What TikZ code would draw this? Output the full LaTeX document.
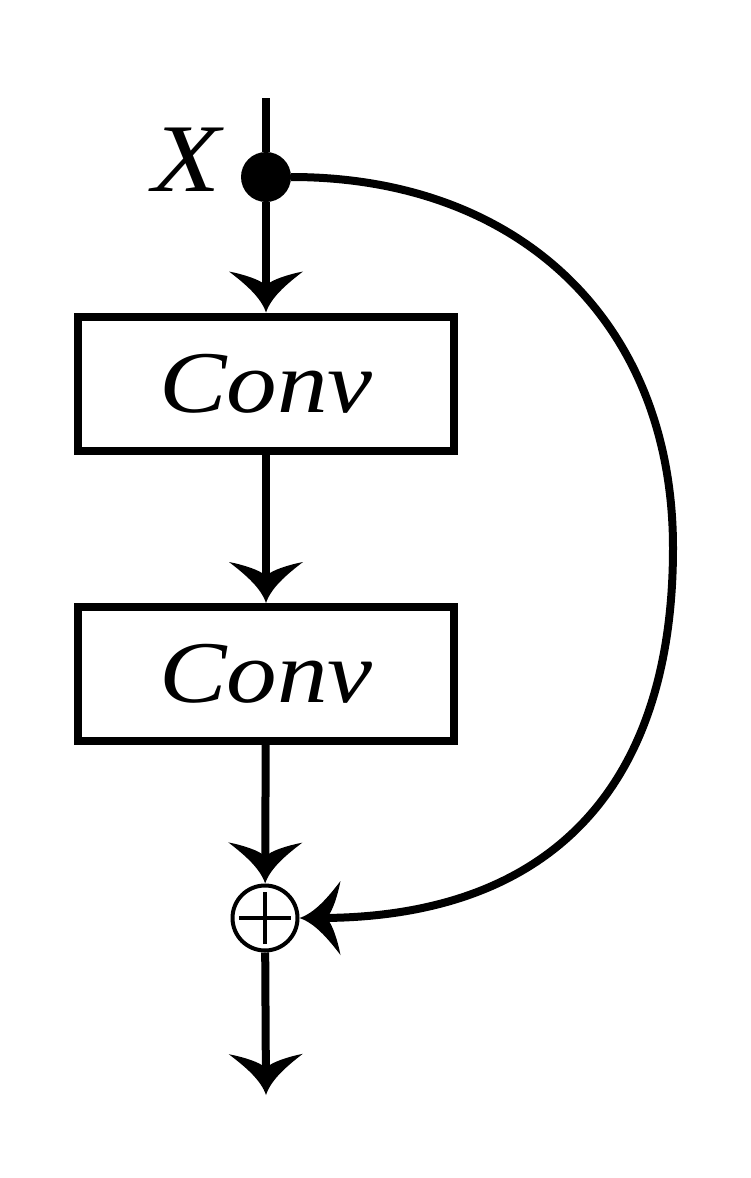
\documentclass[tikz,border=0pt]{standalone}
\usepackage{fontspec}
\setmainfont{Liberation Serif}
\usetikzlibrary{arrows.meta}
\newcommand{\wideit}[1]{\scalebox{1.15}[1]{\itshape #1}}
\pgfdeclarearrow{
  name = Swoop,
  setup code = {
    \pgfarrowssettipend{0pt}
    \pgfarrowssetlineend{-20pt}
    \pgfarrowssetbackend{-41pt}
    \pgfarrowshullpoint{0pt}{0pt}
    \pgfarrowshullpoint{-41pt}{37pt}
    \pgfarrowshullpoint{-41pt}{-37pt}
  },
  drawing code = {
    \pgfpathmoveto{\pgfpoint{0pt}{0pt}}
    \pgfpathcurveto{\pgfpoint{-15pt}{5pt}}{\pgfpoint{-28pt}{20pt}}{\pgfpoint{-41pt}{37pt}}
    \pgfpathcurveto{\pgfpoint{-38pt}{22pt}}{\pgfpoint{-33pt}{6pt}}{\pgfpoint{-27pt}{0pt}}
    \pgfpathcurveto{\pgfpoint{-33pt}{-6pt}}{\pgfpoint{-38pt}{-22pt}}{\pgfpoint{-41pt}{-37pt}}
    \pgfpathcurveto{\pgfpoint{-28pt}{-20pt}}{\pgfpoint{-15pt}{-5pt}}{\pgfpoint{0pt}{0pt}}
    \pgfpathclose
    \pgfusepathqfill
  }
}
\tikzset{
  wire/.style={line width=8pt},
  flow/.style={wire, -{Swoop}},
  convbox/.style={draw, line width=8pt, minimum width=376.5pt, minimum height=134pt,
    inner sep=0pt, font=\fontsize{88}{90}\selectfont},
  junction/.style={circle, fill, minimum size=50pt, inner sep=0pt},
  sumnode/.style={circle, draw, line width=4pt, minimum size=65pt, inner sep=0pt,
    path picture={\draw[line width=4pt] ([xshift=-26pt]path picture bounding box.center) -- ([xshift=26pt]path picture bounding box.center);
                  \draw[line width=4pt] ([yshift=-26pt]path picture bounding box.center) -- ([yshift=26pt]path picture bounding box.center);}},
  lbl/.style={font=\fontsize{97}{99}\selectfont, inner sep=0pt}
}
\begin{document}
\begin{tikzpicture}[x=1pt, y=-1pt]
\useasboundingbox (0,0) rectangle (751,1178);
\coordinate (in) at (266,98);
\node[junction] (x0) at (266,177) {};
\node[lbl] (xl) at (187,160) {\wideit{X}};
\node[convbox] (c1) at (266,383.5) {\wideit{Conv}};
\node[convbox] (c2) at (266,674) {\wideit{Conv}};
\node[sumnode] (sum) at (265,918) {};
\coordinate (out) at (266,1095);
\coordinate (far) at (673,548);
\draw[wire] (in) -- (x0);
\draw[flow] (x0) -- (c1);
\draw[flow] (c1) -- (c2);
\draw[flow] (c2) -- (sum);
\draw[flow] (sum) -- (out);
\draw[wire, -{Swoop}] (x0.east) .. controls (521,177) and (673,324) .. (far)
   .. controls (673,788) and (550,918) .. (sum.east);
\end{tikzpicture}
\end{document}
